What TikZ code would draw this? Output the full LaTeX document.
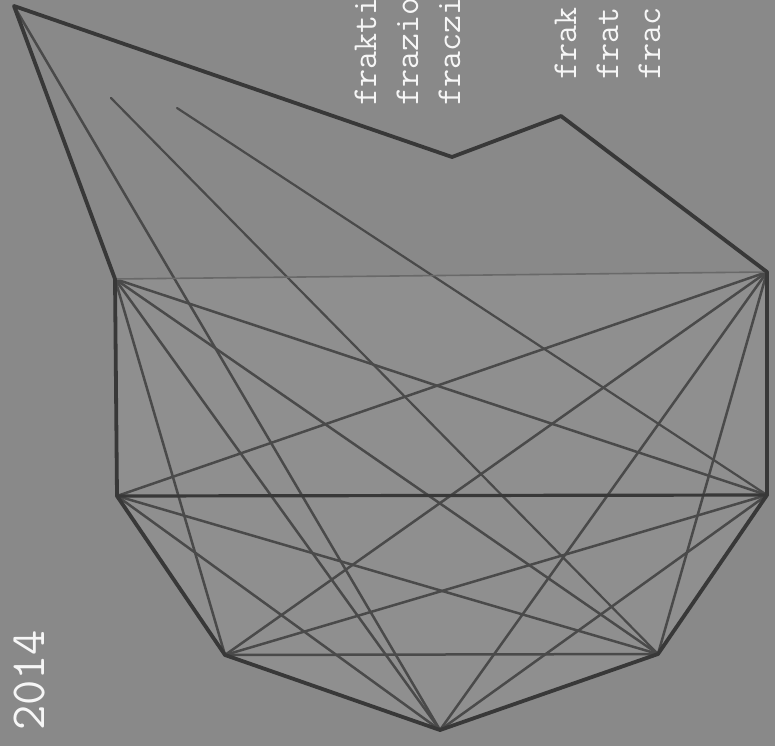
\documentclass[tikz,border=0pt]{standalone}
\usepackage{xcolor}
\usetikzlibrary{positioning}
\definecolor{bggray}{RGB}{137,137,137}
\definecolor{innergray}{RGB}{143,143,143}
\definecolor{edgedark}{RGB}{56,56,56}
\definecolor{edgemid}{RGB}{74,74,74}
\definecolor{edgelight}{RGB}{105,105,105}
\definecolor{inkwhite}{RGB}{246,246,246}

\begin{document}
\begin{tikzpicture}[
  x=1pt, y=-1pt,
  outline/.style={draw=edgedark, line width=3.8pt, line join=round, line cap=round},
  chord/.style={draw=edgemid, line width=2.5pt, line cap=round},
  faint/.style={draw=edgelight, line width=1.6pt},
  word/.style={rotate=90, anchor=base west, inner sep=0pt, text=inkwhite,
    font=\ttfamily\fontsize{35}{35}\selectfont},
  year/.style={rotate=90, anchor=base west, inner sep=0pt, text=inkwhite,
    font=\ttfamily\fontsize{49}{49}\selectfont},
  ]
  \fill[bggray] (0,0) rectangle (775,746);
  \clip (0,0) rectangle (775,746);

  % corner points
  \coordinate (apex) at (14,6);
  \coordinate (kink1) at (452,157);
  \coordinate (kink2) at (561,116);
  \coordinate (tl) at (115,279);
  \coordinate (tr) at (767,272);
  \coordinate (ml) at (117,496);
  \coordinate (mr) at (767,495);
  \coordinate (bl) at (225,655);
  \coordinate (br) at (658,654);
  \coordinate (bot) at (440,730);
  \coordinate (ray1) at (111,98);
  \coordinate (ray2) at (177,108);

  \fill[innergray] (tl) -- (tr) -- (mr) -- (br) -- (bot) -- (bl) -- (ml) -- cycle;

  % rays from the top
  \draw[chord] (apex) -- (bot);
  \draw[chord, line width=2.2pt] (ray1) -- (br);
  \draw[chord, line width=2.2pt] (ray2) -- (mr);

  % chords
  \draw[chord] (tl) -- (mr);
  \draw[chord] (tl) -- (bl);
  \draw[chord] (tl) -- (br);
  \draw[chord] (tl) -- (bot);
  \draw[chord] (tr) -- (ml);
  \draw[chord] (tr) -- (bl);
  \draw[chord] (tr) -- (br);
  \draw[chord] (tr) -- (bot);
  \draw[chord] (ml) -- (br);
  \draw[chord] (ml) -- (bot);
  \draw[chord] (mr) -- (bl);
  \draw[chord] (mr) -- (bot);
  \draw[chord] (bl) -- (br);
  \draw[faint] (tl) -- (tr);

  % outline
  \draw[outline] (tl) -- (apex) -- (kink1) -- (kink2) -- (tr) -- (mr)
    -- (br) -- (bot) -- (bl) -- (ml) -- cycle;
  \draw[outline, line width=3.2pt] (ml) -- (mr);

  % words
  \node[word] (w1) at (376,106) {frakti};
  \node[word] (w2) at (418,106) {frazio};
  \node[word] (w3) at (460,106) {fraczi};
  \node[word] (w4) at (576,80) {frak};
  \node[word] (w5) at (618,80) {frat};
  \node[word] (w6) at (660,80) {frac};
  \node[year] (yr) at (44,731) {2014};
\end{tikzpicture}
\end{document}
